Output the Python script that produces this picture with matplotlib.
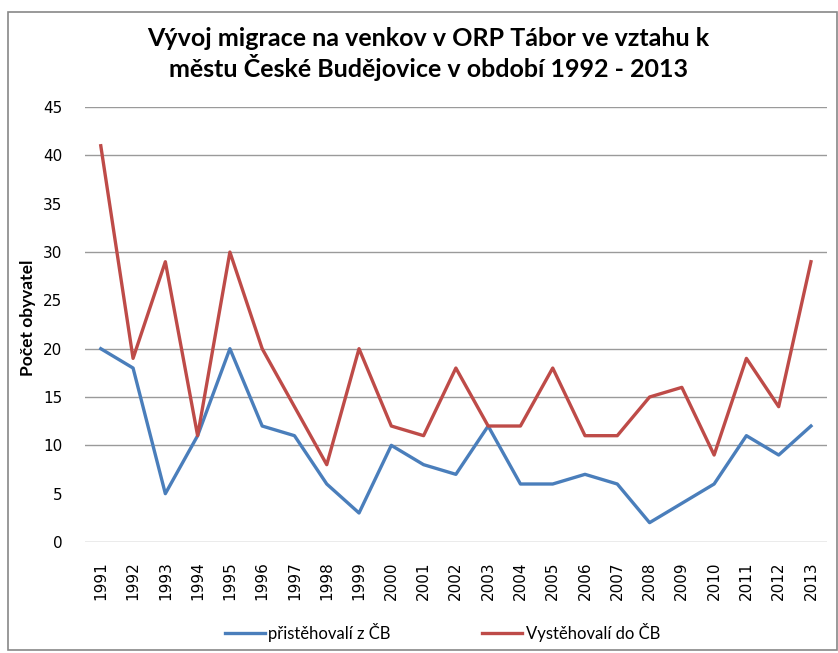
import matplotlib
matplotlib.use("Agg")
import matplotlib.pyplot as plt
from matplotlib.patches import Rectangle

years = [str(y) for y in range(1991, 2014)]
pristehovali = [20, 18, 5, 11, 20, 12, 11, 6, 3, 10, 8, 7, 12, 6, 6, 7, 6, 2, 4, 6, 11, 9, 12]
vystehovali = [41, 19, 29, 11, 30, 20, 14, 8, 20, 12, 11, 18, 12, 12, 18, 11, 11, 15, 16, 9, 19, 14, 29]
yticks = list(range(0, 50, 5))
# some gridlines are missing in the source picture
grid_levels = [0, 10, 15, 20, 30, 40, 45]

plt.rcParams['font.family'] = ['Lato', 'DejaVu Sans']

fig = plt.figure(figsize=(8.38, 6.53), dpi=100)
ax = fig.add_axes([0.101, 0.170, 0.886, 0.666])

x = range(len(years))
ax.plot(x, pristehovali, color='#4A7EBB', lw=2.4, label='přistěhovalí z ČB')
ax.plot(x, vystehovali, color='#BE4B48', lw=2.4, label='Vystěhovalí do ČB')

for g in grid_levels:
    ax.axhline(g, color='#9a9a9a', lw=1, zorder=0)

ax.set_xlim(-0.5, len(years) - 0.5)
ax.set_ylim(0, 45)
ax.set_yticks(yticks)
ax.set_yticklabels([str(v) for v in yticks], family='DejaVu Sans', fontsize=11)
ax.set_xticks(list(x))
ax.set_xticklabels(years, rotation=90, fontsize=11, family='DejaVu Sans')
ax.tick_params(axis='y', length=0, pad=16)
ax.tick_params(axis='x', length=0, pad=14)
for s in ax.spines.values():
    s.set_visible(False)

ax.set_ylabel('Počet obyvatel', fontsize=12.5, fontweight='bold')
ax.yaxis.set_label_coords(-0.066, 0.515)

fig.text(0.511, 0.917, 'Vývoj migrace na venkov v ORP Tábor ve vztahu k\nměstu České Budějovice v období 1992 - 2013',
         ha='center', va='center', fontsize=18, fontweight='bold', linespacing=1.15)

fig.legend(loc='center', bbox_to_anchor=(0.528, 0.032), ncol=2, frameon=False,
           fontsize=12, handlelength=2.4, handletextpad=0.2, columnspacing=5.5)

fig.patches.append(Rectangle((0.009, 0.004), 0.99, 0.978, transform=fig.transFigure,
                             fill=False, edgecolor='#888888', lw=1.2))

fig.savefig('out.png', dpi=100)
